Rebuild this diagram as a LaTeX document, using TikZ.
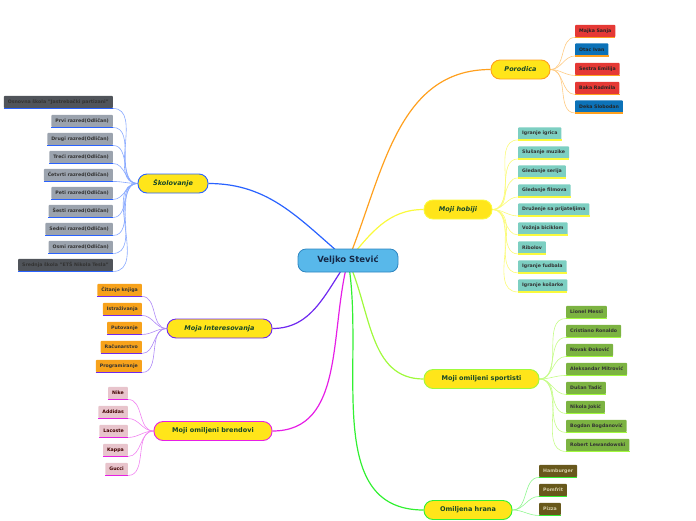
\documentclass[tikz,border=0pt]{standalone}
\definecolor{rootblue}{RGB}{88, 184, 234}
\definecolor{rootedge}{RGB}{46, 134, 193}
\definecolor{rootink}{RGB}{22, 40, 70}
\definecolor{branchyellow}{RGB}{255, 229, 26}
\definecolor{branchink}{RGB}{22, 70, 40}
\definecolor{cskol}{RGB}{41, 98, 255}
\definecolor{cinter}{RGB}{110, 40, 240}
\definecolor{cbrend}{RGB}{230, 30, 230}
\definecolor{cpor}{RGB}{255, 160, 30}
\definecolor{chob}{RGB}{250, 250, 60}
\definecolor{csport}{RGB}{160, 250, 60}
\definecolor{chrana}{RGB}{50, 240, 50}
\definecolor{leafgray}{RGB}{155, 163, 174}
\definecolor{leafdark}{RGB}{80, 84, 90}
\definecolor{leaforange}{RGB}{247, 162, 27}
\definecolor{leafpink}{RGB}{232, 196, 204}
\definecolor{leafred}{RGB}{229, 57, 53}
\definecolor{leafblue}{RGB}{12, 114, 184}
\definecolor{leafteal}{RGB}{125, 207, 194}
\definecolor{leafgreen}{RGB}{124, 179, 66}
\definecolor{leafolive}{RGB}{104, 88, 28}
\definecolor{oliveink}{RGB}{214, 207, 168}
\usepackage{fontspec}
\setmainfont{DejaVu Sans}
\usepackage{tikz}
\usetikzlibrary{positioning, backgrounds}
\tikzset{
  rootnode/.style={draw=rootedge, fill=rootblue, line width=0.8pt, rounded corners=8pt,
    minimum width=100pt, minimum height=23pt, text=rootink,
    font=\fontsize{8.5}{10}\selectfont\bfseries},
  branch/.style={draw=#1, fill=branchyellow, line width=0.9pt, rounded corners=9pt,
    minimum height=19pt, inner xsep=2pt, text=branchink,
    font=\fontsize{6.5}{8}\selectfont\bfseries},
  leaf/.style={fill=#1, rounded corners=1pt, minimum height=12.5pt, inner xsep=4pt,
    inner ysep=0pt, text=black!80, font=\fontsize{4.7}{6}\selectfont\bfseries},
  trunk/.style={line width=1.2pt},
  twig/.style={line width=0.6pt},
  underline/.style={line width=1.1pt}
}

\begin{document}
\begin{tikzpicture}[x=1pt, y=1pt]
  \useasboundingbox (0,0) rectangle (696,-520);

  \node[rootnode] (root) at (348,-260.5) {Veljko Stević};

  % left side
  \node[branch=cskol, minimum width=70pt, font=\fontsize{6.5}{8}\selectfont\bfseries\itshape] (skol) at (173,-183.5) {Školovanje};
  \node[branch=cinter, minimum width=105pt, font=\fontsize{6.5}{8}\selectfont\bfseries\itshape] (inter) at (219.5,-328.5) {Moja Interesovanja};
  \node[branch=cbrend, minimum width=118pt] (brend) at (213,-431) {Moji omiljeni brendovi};

  % right side
  \node[branch=cpor, minimum width=59pt, font=\fontsize{6.5}{8}\selectfont\bfseries\itshape] (por) at (520.5,-69.5) {Porodica};
  \node[branch=chob, minimum width=68pt, font=\fontsize{6.5}{8}\selectfont\bfseries\itshape] (hob) at (458,-209.5) {Moji hobiji};
  \node[branch=csport, minimum width=115pt] (sport) at (481.5,-379) {Moji omiljeni sportisti};
  \node[branch=chrana, minimum width=88pt] (hrana) at (468,-510) {Omiljena hrana};

  \begin{scope}[on background layer]
    \draw[cskol, trunk] (root.center) to[out=140, in=0] (skol.east);
    \draw[cinter, trunk] (root.center) to[out=235, in=0] (inter.east);
    \draw[cbrend, trunk] (root.center) to[out=255, in=0] (brend.east);
    \draw[cpor, trunk] (root.center) to[out=68, in=180] (por.west);
    \draw[chob, trunk] (root.center) to[out=50, in=180] (hob.west);
    \draw[csport, trunk] (root.center) to[out=295, in=180] (sport.west);
    \draw[chrana, trunk] (root.center) to[out=280, in=180] (hrana.west);
  \end{scope}

  % Skolovanje
  \foreach \yy/\txt/\fc [count=\i] in {102/{Osnovna škola "Jastrebački partizani"}/leafdark,
      121/{Prvi razred(Odličan)}/leafgray, 139/{Drugi razred(Odličan)}/leafgray,
      157/{Treći razred(Odličan)}/leafgray, 175/{Četvrti razred(Odličan)}/leafgray,
      193/{Peti razred(Odličan)}/leafgray, 211/{Šesti razred(Odličan)}/leafgray,
      229/{Sedmi razred(Odličan)}/leafgray, 247/{Osmi razred(Odličan)}/leafgray,
      265/{Srednja škola "ETŠ Nikola Tesla"}/leafdark}{
    \node[leaf=\fc, anchor=east] (skol\i) at (113,-\yy) {\txt};
    \draw[cskol, underline] (skol\i.south west) -- (skol\i.south east);
    \begin{scope}[on background layer]
      \draw[cskol!55, twig] (skol.west) to[out=180, in=0] (skol\i.south east);
    \end{scope}
  }

  % Interesovanja
  \foreach \yy/\txt [count=\i] in {290/{Čitanje knjiga}, 309/{Istraživanja}, 328/{Putovanje},
      347/{Računarstvo}, 366/{Programiranje}}{
    \node[leaf=leaforange, anchor=east] (inter\i) at (142,-\yy) {\txt};
    \draw[cinter, underline] (inter\i.south west) -- (inter\i.south east);
    \begin{scope}[on background layer]
      \draw[cinter!55, twig] (inter.west) to[out=180, in=0] (inter\i.south east);
    \end{scope}
  }

  % Brendovi
  \foreach \yy/\txt [count=\i] in {393/{Nike}, 412/{Addidas}, 431/{Lacoste}, 450/{Kappa}, 469/{Gucci}}{
    \node[leaf=leafpink, anchor=east, text=black!75!red] (brend\i) at (128,-\yy) {\txt};
    \draw[cbrend, underline] (brend\i.south west) -- (brend\i.south east);
    \begin{scope}[on background layer]
      \draw[cbrend!55, twig] (brend.west) to[out=180, in=0] (brend\i.south east);
    \end{scope}
  }

  % Porodica
  \foreach \yy/\txt/\fc [count=\i] in {31/{Majka Sanja}/leafred, 49.5/{Otac Ivan}/leafblue,
      69/{Sestra Emilija}/leafred, 88/{Baka Radmila}/leafred, 106.5/{Deka Slobodan}/leafblue}{
    \node[leaf=\fc, anchor=west, text=black!85] (por\i) at (575,-\yy) {\txt};
    \draw[cpor, underline] (por\i.south west) -- (por\i.south east);
    \begin{scope}[on background layer]
      \draw[cpor!55, twig] (por.east) to[out=0, in=180] (por\i.south west);
    \end{scope}
  }

  % Hobiji
  \foreach \yy/\txt [count=\i] in {133.5/{Igranje igrica}, 152.5/{Slušanje muzike},
      171.5/{Gledanje serija}, 190.5/{Gledanje filmova}, 209.5/{Druženje sa prijateljima},
      228.5/{Vožnja biciklom}, 247.5/{Ribolov}, 266.5/{Igranje fudbala}, 285.5/{Igranje košarke}}{
    \node[leaf=leafteal, anchor=west] (hob\i) at (518,-\yy) {\txt};
    \draw[chob, underline] (hob\i.south west) -- (hob\i.south east);
    \begin{scope}[on background layer]
      \draw[chob!70, twig] (hob.east) to[out=0, in=180] (hob\i.south west);
    \end{scope}
  }

  % Sportisti
  \foreach \yy/\txt [count=\i] in {312/{Lionel Messi}, 331/{Cristiano Ronaldo},
      350/{Novak Đoković}, 369/{Aleksandar Mitrović}, 388/{Dušan Tadić},
      407/{Nikola Jokić}, 426/{Bogdan Bogdanović}, 445/{Robert Lewandowski}}{
    \node[leaf=leafgreen, anchor=west] (sport\i) at (566,-\yy) {\txt};
    \draw[csport, underline] (sport\i.south west) -- (sport\i.south east);
    \begin{scope}[on background layer]
      \draw[csport!60, twig] (sport.east) to[out=0, in=180] (sport\i.south west);
    \end{scope}
  }

  % Hrana
  \foreach \yy/\txt [count=\i] in {471/{Hamburger}, 490/{Pomfrit}, 509/{Pizza}}{
    \node[leaf=leafolive, anchor=west, text=oliveink] (hrana\i) at (539,-\yy) {\txt};
    \draw[chrana, underline] (hrana\i.south west) -- (hrana\i.south east);
    \begin{scope}[on background layer]
      \draw[chrana!55, twig] (hrana.east) to[out=0, in=180] (hrana\i.south west);
    \end{scope}
  }
\end{tikzpicture}
\end{document}
